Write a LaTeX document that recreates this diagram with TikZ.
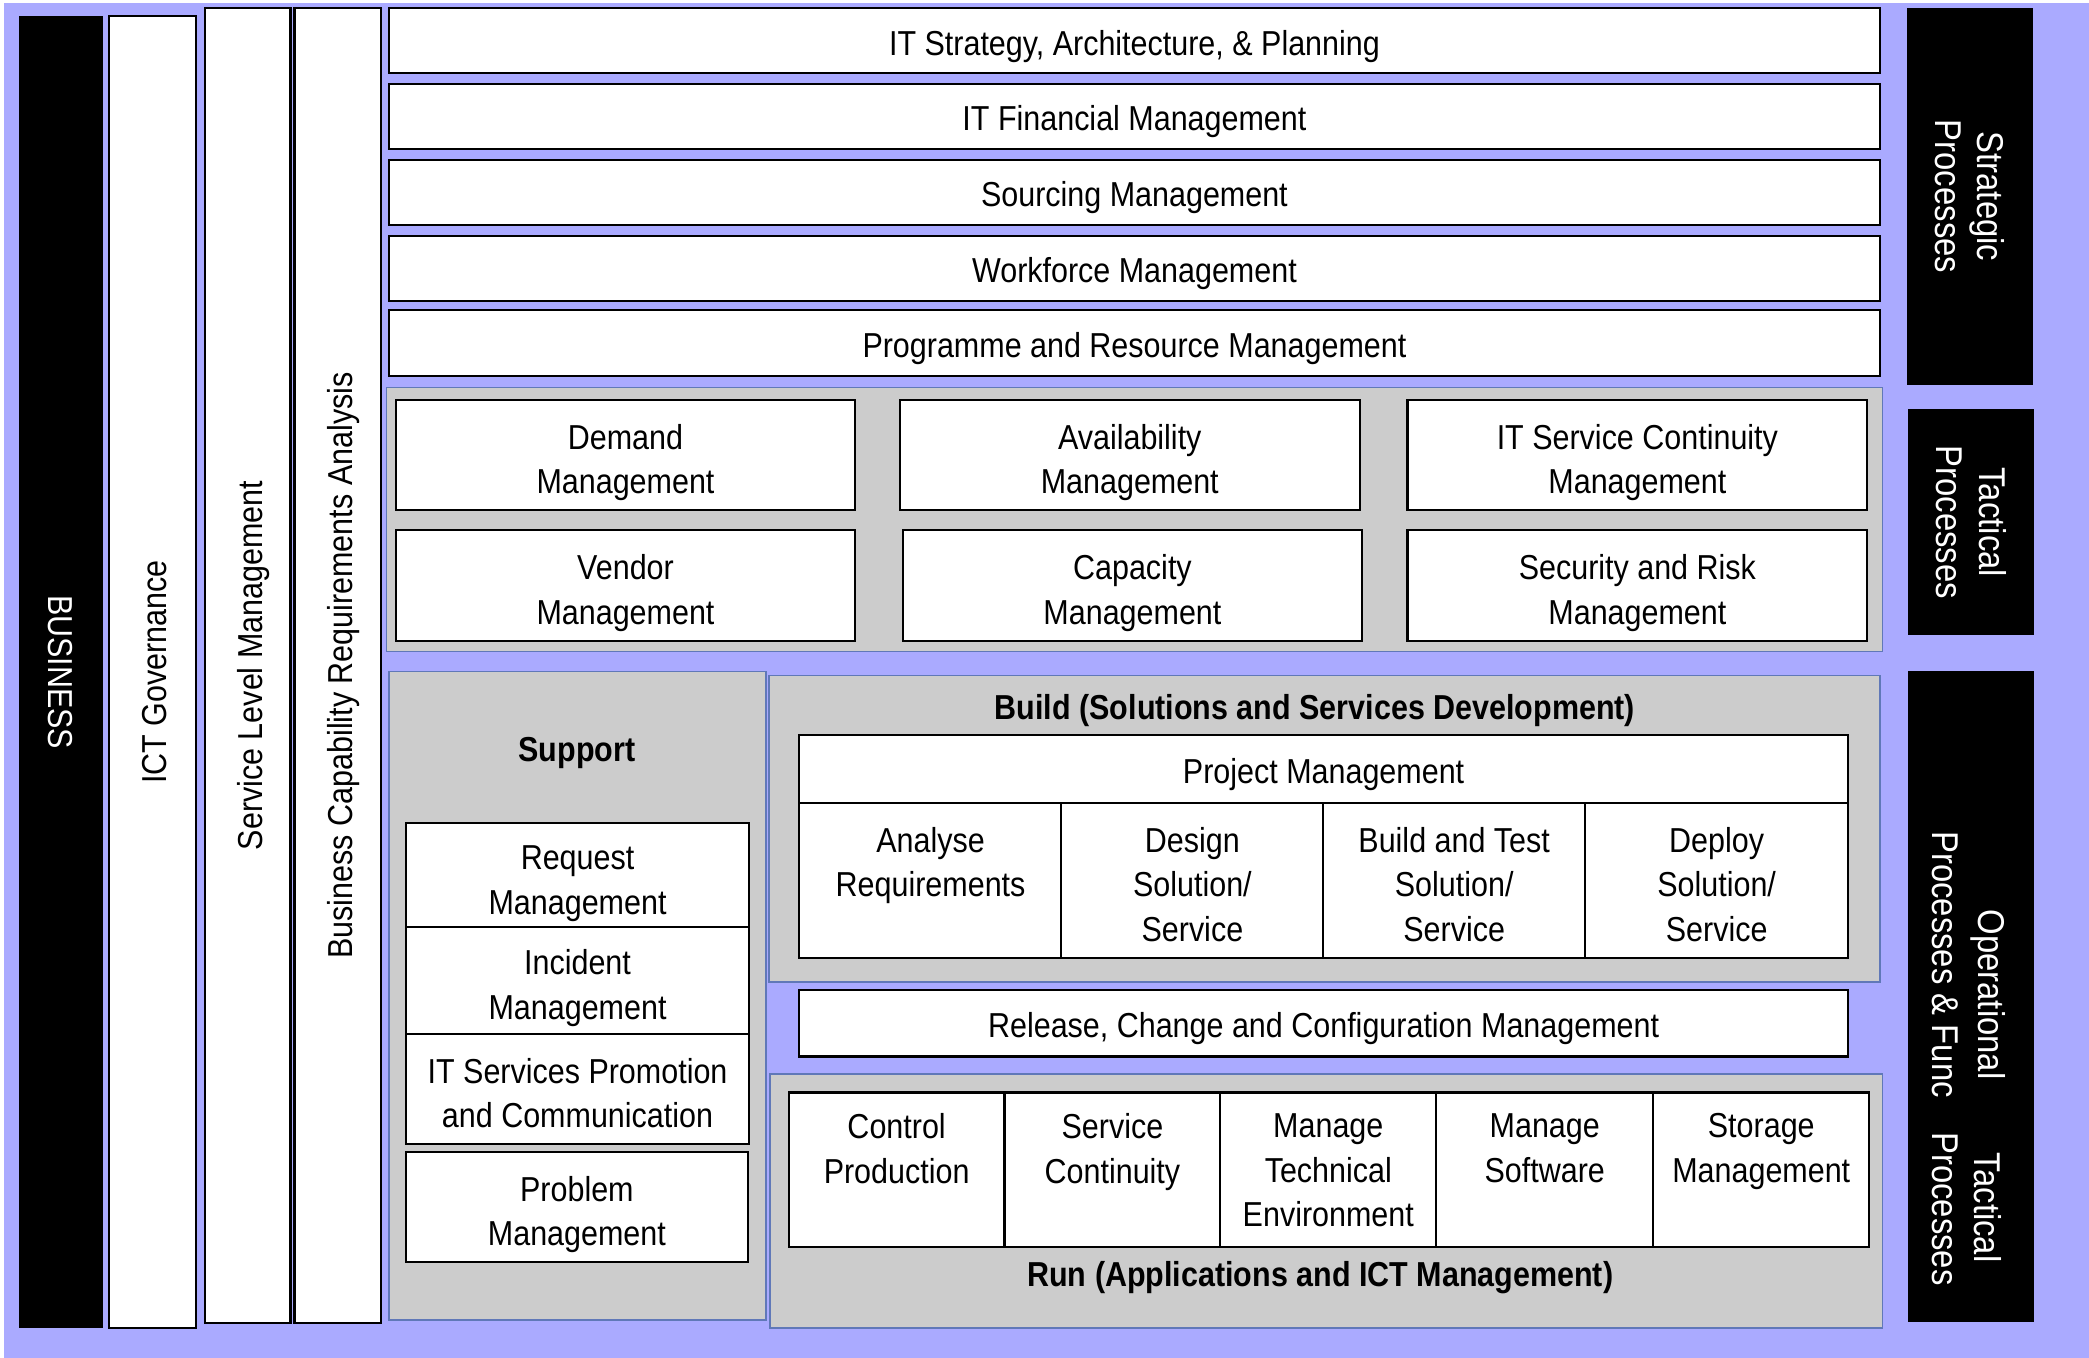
\documentclass[tikz,border=0pt]{standalone}
\usepackage{fontspec}
\setmainfont[FakeStretch=0.88]{Liberation Sans}
\definecolor{bluebg}{RGB}{170,170,255}
\definecolor{panelgray}{RGB}{204,204,204}
\definecolor{panelline}{RGB}{96,120,184}
\newcommand{\boxfont}{\fontsize{26}{33.5}\selectfont}
\newcommand{\sidefont}{\fontsize{28}{32}\selectfont}
\newcommand{\twoline}[2]{\rule{0pt}{30.6pt}#1\\#2\rule[-6pt]{0pt}{6pt}}
\tikzset{box/.style = {draw, fill = white, line width = 1.6pt, align = center,
                       inner sep = 0, font = \boxfont,
                       execute at begin node = {\rule{0pt}{27.6pt}},
                       execute at end node = {\rule[-6pt]{0pt}{6pt}}}}
\tikzset{panel/.style = {draw = panelline, fill = panelgray, line width = 1.2pt, inner sep = 0}}
\tikzset{blackbar/.style = {fill = black, text = white, align = center, inner sep = 0,
                            font = \sidefont}}
\tikzset{bartext/.style = {text = white, inner sep = 0, font = \sidefont}}
\tikzset{heading/.style = {anchor = base, font = \boxfont\bfseries, inner sep = 0}}
\tikzset{toptext/.style = {anchor = north, align = center, font = \boxfont,
                           inner sep = 0, yshift = -#1}}
\tikzset{dims/.style 2 args = {minimum width = #1, minimum height = #2}}
\begin{document}
\begin{tikzpicture}[x = 1pt, y = -1pt]
      \useasboundingbox (0, 0) rectangle (1568, 1019);
      \fill [bluebg] (3, 2) rectangle (1568, 1019);

      % columns on the left
      \node [blackbar, font = \boxfont, rotate = -90, dims = {985pt}{63pt}] (business) at (45.5, 504.5) {BUSINESS};
      \node [box, rotate = 90, dims = {985pt}{65pt}] (ictgov) at (114.5, 504.5) {ICT Governance};
      \node [box, rotate = 90, dims = {987pt}{64pt}] (slm) at (186, 499.5) {Service Level Management};
      \node [box, rotate = 90, dims = {987pt}{65pt}] (bcra) at (253.5, 499.5) {Business Capability Requirements Analysis};

      % strategic strips
      \node [box, dims = {1119pt}{49pt}] (itstrategy) at (851.5, 30.5) {IT Strategy, Architecture, \& Planning};
      \node [box, dims = {1119pt}{49pt}] (itfinance) at (851.5, 87.5) {IT Financial Management};
      \node [box, dims = {1119pt}{49pt}] (sourcing) at (851.5, 144.5) {Sourcing Management};
      \node [box, dims = {1119pt}{49pt}] (workforce) at (851.5, 201.5) {Workforce Management};
      \node [box, dims = {1119pt}{49pt}] (programme) at (851.5, 257.5) {Programme and Resource Management};

      % tactical
      \node [panel, dims = {1123pt}{198pt}] (tactpanel) at (851.5, 390) {};
      \node [box, dims = {345pt}{83pt}] (demand) at (469.5, 341.5) {\twoline{Demand}{Management}};
      \node [box, dims = {345pt}{83pt}] (availability) at (848, 341.5) {\twoline{Availability}{Management}};
      \node [box, dims = {345pt}{83pt}] (continuity) at (1229, 341.5) {\twoline{IT Service Continuity}{Management}};
      \node [box, dims = {345pt}{83pt}] (vendor) at (469.5, 439.5) {\twoline{Vendor}{Management}};
      \node [box, dims = {345pt}{83pt}] (capacity) at (850, 439.5) {\twoline{Capacity}{Management}};
      \node [box, dims = {345pt}{83pt}] (security) at (1229, 439.5) {\twoline{Security and Risk}{Management}};

      % support
      \node [panel, dims = {283pt}{487pt}] (supportpanel) at (433.5, 747.5) {};
      \node [heading] (supporttitle) at (433, 571.5) {Support};
      \node [box, dims = {258pt}{79pt}] (request) at (433.5, 657) {\twoline{Request}{Management}};
      \node [box, dims = {258pt}{80pt}] (incident) at (433.5, 736) {\twoline{Incident}{Management}};
      \node [box, dims = {258pt}{83pt}] (promotion) at (433.5, 817.5) {\twoline{IT Services Promotion}{and Communication}};
      \node [box, dims = {257pt}{83pt}] (problem) at (433, 906) {\twoline{Problem}{Management}};

      % build
      \node [panel, dims = {834pt}{230pt}] (buildpanel) at (994, 622) {};
      \node [heading] (buildtitle) at (987, 540) {Build (Solutions and Services Development)};
      \node [box, dims = {787pt}{51pt}] (project) at (993.5, 577.5) {Project Management};
      \node [box, dims = {197pt}{116pt}, label = {[toptext = 18.5pt]north:Analyse\\Requirements}] (analyse) at (698.5, 661) {};
      \node [box, dims = {197pt}{116pt}, label = {[toptext = 18.5pt]north:Design\\Solution/\\Service}] (design) at (895, 661) {};
      \node [box, dims = {197pt}{116pt}, label = {[toptext = 18.5pt]north:Build and Test\\Solution/\\Service}] (buildtest) at (1091.5, 661) {};
      \node [box, dims = {197pt}{116pt}, label = {[toptext = 18.5pt]north:Deploy\\Solution/\\Service}] (deploy) at (1288.5, 661) {};

      \node [box, dims = {787pt}{50pt}] (release) at (993.5, 768) {Release, Change and Configuration Management};

      % run
      \node [panel, dims = {835pt}{191pt}] (runpanel) at (995.5, 901.5) {};
      \node [box, dims = {162pt}{116pt}, label = {[toptext = 16.5pt]north:Control\\Production}] (control) at (673, 878) {};
      \node [box, dims = {162pt}{116pt}, label = {[toptext = 16.5pt]north:Service\\Continuity}] (servcont) at (835, 878) {};
      \node [box, dims = {162pt}{116pt}, label = {[toptext = 16.5pt]north:Manage\\Technical\\Environment}] (techenv) at (997, 878) {};
      \node [box, dims = {163pt}{116pt}, label = {[toptext = 16.5pt]north:Manage\\Software}] (software) at (1159.5, 878) {};
      \node [box, dims = {162pt}{116pt}, label = {[toptext = 16.5pt]north:Storage\\Management}] (storage) at (1322, 878) {};
      \node [heading] (runtitle) at (991, 965.5) {Run (Applications and ICT Management)};

      % process levels on the right
      \node [blackbar, rotate = -90, dims = {283pt}{95pt}] (strategic) at (1478.5, 147.5) {Strategic\\Processes};
      \node [blackbar, rotate = -90, dims = {170pt}{95pt}] (tactical) at (1479.5, 392) {Tactical\\Processes};
      \node [blackbar, rotate = -90, dims = {488pt}{95pt}] (operational) at (1479.5, 748) {};
      \node [bartext, rotate = -90] (opname) at (1492, 746.5) {Operational};
      \node [bartext, rotate = -90] (opproc) at (1460, 724) {Processes \& Func};
      \node [bartext, rotate = -90] (tacname) at (1492, 906.5) {Tactical};
      \node [bartext, rotate = -90] (tacproc) at (1460, 907.5) {Processes};

    \end{tikzpicture}
\end{document}
